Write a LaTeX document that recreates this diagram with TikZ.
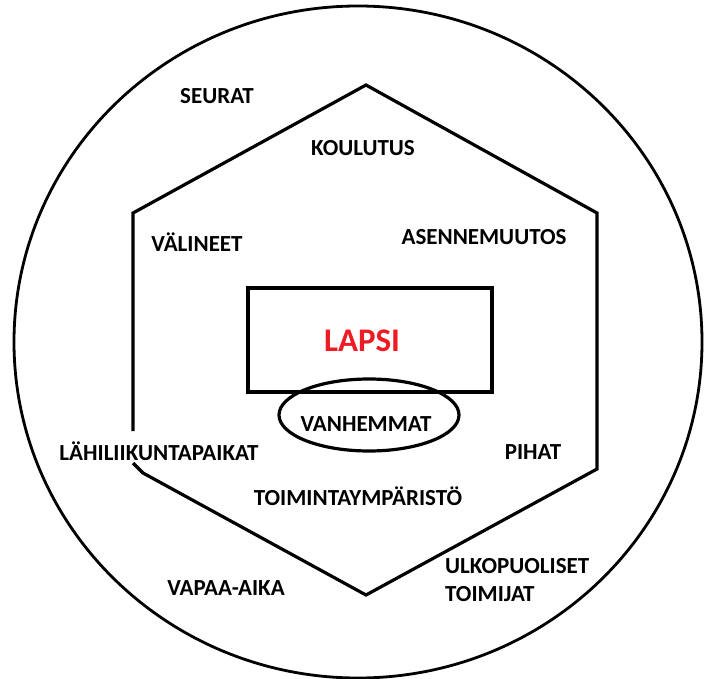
\documentclass[tikz,border=0pt]{standalone}
\usepackage{fontspec}
\setmainfont{Carlito}
\usetikzlibrary{shapes.geometric}
\definecolor{paintred}{RGB}{237,28,36}
\tikzset{
  lbl/.style={font=\fontsize{23}{27}\selectfont\bfseries, text=black, inner sep=0pt},
  shapeline/.style={draw=black, line width=3.2pt},
}
\begin{document}
\begin{tikzpicture}[x=1pt,y=-1pt]
\useasboundingbox (0,0) rectangle (704,679);
% outer circle
\draw[line width=2.8pt] (358,342) ellipse [x radius=344, y radius=336];
% hexagon
\draw[shapeline, line join=miter] (133,431) -- (133,213) -- (366,85) -- (597,213) -- (597,469) -- (366,595) -- (143,473) -- (133,463);
% rectangle and ellipse
\node[shapeline, rectangle, minimum width=244pt, minimum height=104pt, inner sep=0pt] (lapsi) at (370,340) {};
\node[text=paintred, font=\fontsize{33}{38}\selectfont\bfseries, inner sep=0pt] (lapsitxt) at (362,341) {LAPSI};
\node[shapeline, ellipse, minimum width=180pt, minimum height=72pt, inner sep=0pt] (vanh) at (369,415) {};
\node[lbl] (vanhtxt) at (366,424) {VANHEMMAT};
% labels
\node[lbl] (seurat) at (217,96) {SEURAT};
\node[lbl] (koulutus) at (363,148) {KOULUTUS};
\node[lbl] (valineet) at (197,242) {VÄLINEET};
\node[lbl] (asenne) at (484,237) {ASENNEMUUTOS};
\node[lbl] (lahi) at (159,451) {LÄHILIIKUNTAPAIKAT};
\node[lbl] (pihat) at (533,452) {PIHAT};
\node[lbl] (toiminta) at (358,496) {TOIMINTAYMPÄRISTÖ};
\node[lbl, align=left, anchor=west, font=\fontsize{23}{28}\selectfont\bfseries] (ulko) at (445,580) {ULKOPUOLISET\\TOIMIJAT};
\node[lbl] (vapaa) at (226,588) {VAPAA-AIKA};
\end{tikzpicture}
\end{document}
